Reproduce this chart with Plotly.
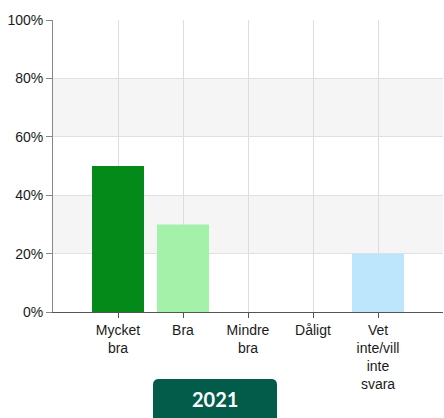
import plotly.graph_objects as go

categories = ["Mycket<br>bra", "Bra", "Mindre<br>bra", "Dåligt", "Vet<br>inte/vill<br>inte<br>svara"]
values = [50, 30, 0, 0, 20]
colors = ["#048a18", "#a4f2a9", "#cccccc", "#cccccc", "#bde6fd"]
y_ticks = [0, 20, 40, 60, 80, 100]
badge_label = "2021"

xpos = list(range(len(categories)))

fig = go.Figure()
fig.add_trace(go.Bar(
    x=xpos, y=values, width=0.8,
    marker=dict(color=colors, line=dict(width=0)),
    hoverinfo="skip",
))

shapes = []
for y0, y1 in [(20, 40), (60, 80)]:
    shapes.append(dict(type="rect", xref="paper", yref="y", x0=0, x1=1, y0=y0, y1=y1,
                       fillcolor="#f5f5f5", line=dict(width=0), layer="below"))

# rounded badge
x0, x1 = 0.2564, 0.5744
yt, yb = -0.2295, -0.37
rx, ry = 0.0154, 0.0205
path = (f"M {x0},{yb} L {x0},{yt - ry} Q {x0},{yt} {x0 + rx},{yt} "
        f"L {x1 - rx},{yt} Q {x1},{yt} {x1},{yt - ry} L {x1},{yb} Z")
shapes.append(dict(type="path", xref="paper", yref="paper", path=path,
                   fillcolor="#035b4a", line=dict(width=0), layer="above"))

fig.update_layout(
    width=444, height=418,
    margin=dict(l=53, r=1, t=20, b=106),
    plot_bgcolor="white", paper_bgcolor="white",
    showlegend=False,
    bargap=0.2,
    font=dict(family="Liberation Sans, Arial", size=14, color="#1a1a1a"),
    shapes=shapes,
    annotations=[dict(text=f"<b>{badge_label}</b>", xref="paper", yref="paper",
                      x=(x0 + x1) / 2, y=-0.298, showarrow=False,
                      font=dict(family="Lato", size=20, color="white"),
                      xanchor="center", yanchor="middle")],
)
fig.update_xaxes(
    range=[-1, 5], tickvals=xpos, ticktext=categories,
    showgrid=True, gridcolor="#dddddd", gridwidth=1,
    showline=True, linecolor="#555", linewidth=1,
    ticks="outside", ticklen=5, tickcolor="#555",
    zeroline=False, fixedrange=True,
)
fig.update_yaxes(
    range=[0, 100], tickvals=y_ticks, ticktext=[f"{v}%" for v in y_ticks],
    showgrid=True, gridcolor="#e0e0e0", gridwidth=1,
    showline=True, linecolor="#888", linewidth=1,
    ticks="outside", ticklen=6, tickcolor="#888",
    zeroline=False, fixedrange=True,
)

fig.write_html("out.html", config={"displayModeBar": False},
               post_script="document.body.style.margin='0';document.body.style.overflow='hidden';")
